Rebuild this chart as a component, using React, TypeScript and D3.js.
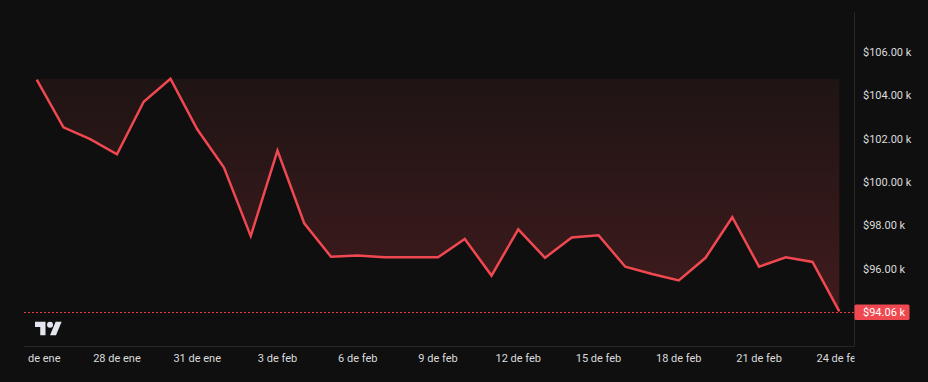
import React from "react";
import * as d3 from "d3";

const dates: string[] = [
  "2025-01-25","2025-01-26","2025-01-27","2025-01-28","2025-01-29","2025-01-30","2025-01-31",
  "2025-02-01","2025-02-02","2025-02-03","2025-02-04","2025-02-05","2025-02-06","2025-02-07",
  "2025-02-08","2025-02-09","2025-02-10","2025-02-11","2025-02-12","2025-02-13","2025-02-14",
  "2025-02-15","2025-02-16","2025-02-17","2025-02-18","2025-02-19","2025-02-20","2025-02-21",
  "2025-02-22","2025-02-23","2025-02-24"
];
const prices: number[] = [
  104.74, 102.54, 102.0, 101.3, 103.72, 104.78, 102.45,
  100.69, 97.53, 101.47, 98.12, 96.58, 96.64, 96.55,
  96.55, 96.55, 97.4, 95.71, 97.84, 96.53, 97.47,
  97.57, 96.12, 95.78, 95.49, 96.53, 98.4, 96.12,
  96.55, 96.34, 94.06
];
const yTicks: number[] = [96, 98, 100, 102, 104, 106];
const monthNames: string[] = ["ene", "feb", "mar", "abr", "may", "jun", "jul", "ago", "sep", "oct", "nov", "dic"];

const W = 928;
const H = 382;
const FONT = "Roboto, 'Noto Sans', sans-serif";

export default function App() {
  const parse = d3.timeParse("%Y-%m-%d");
  const data = dates.map((d, i) => ({ date: parse(d) as Date, v: prices[i] }));

  const paneLeft = 24;
  const paneRight = 854.5;
  const paneTop = 12;
  const paneBottom = 346.5;

  const x = d3
    .scaleTime()
    .domain([data[0].date, data[data.length - 1].date])
    .range([36.7, 839.3]);
  const y = d3.scaleLinear().domain([96, 106]).range([269.3, 52.3]);

  const maxV = d3.max(prices) as number;
  const last = data[data.length - 1];
  const lastY = Math.ceil(y(last.v)) + 0.5;

  const line = d3
    .line<{ date: Date; v: number }>()
    .x((d) => x(d.date))
    .y((d) => y(d.v));
  const area = d3
    .area<{ date: Date; v: number }>()
    .x((d) => x(d.date))
    .y0(() => y(maxV))
    .y1((d) => y(d.v));

  const xTicks = d3.timeDay.range(data[0].date, d3.timeDay.offset(last.date, 1), 3);
  const fmtDate = (d: Date) => `${d.getDate()} de ${monthNames[d.getMonth()]}`;
  const fmtPrice = (v: number) => `$${v.toFixed(2)} k`;

  return (
    <svg
      width={W}
      height={H}
      style={{ position: "absolute", left: 0, top: 0, background: "#0f0f0f", display: "block" }}
    >
      <defs>
        <linearGradient id="fillGrad" gradientUnits="userSpaceOnUse" x1="0" y1={y(maxV)} x2="0" y2={y(last.v)}>
          <stop offset="0%" stopColor="rgb(31,20,20)" />
          <stop offset="100%" stopColor="rgb(64,27,29)" />
        </linearGradient>
        <clipPath id="paneClip">
          <rect x={paneLeft} y={paneTop} width={paneRight - paneLeft} height={paneBottom - paneTop} />
        </clipPath>
        <clipPath id="timeClip">
          <rect x={26.5} y={paneBottom} width={paneRight - 26.5} height={H - paneBottom} />
        </clipPath>
      </defs>
      <rect x={0} y={0} width={W} height={H} fill="#0f0f0f" />

      <g clipPath="url(#paneClip)">
        <path d={area(data) || ""} fill="url(#fillGrad)" />
        <line
          x1={paneLeft}
          x2={paneRight}
          y1={lastY}
          y2={lastY}
          stroke="#ee3d46"
          strokeWidth={1}
          strokeDasharray="2 2"
        />
        <path
          d={line(data) || ""}
          fill="none"
          stroke="#f04850"
          strokeWidth={2.5}
          strokeLinejoin="miter"
          strokeLinecap="butt"
        />
      </g>

      {/* TradingView logo */}
      <g transform="translate(35,318.7) scale(0.75)" fill="#e3e6ee">
        <path d="M14 22H7V11H0V4h14v18zM28 22h-8l7.5-18h8L28 22z" />
        <circle cx={20} cy={8} r={4} />
      </g>

      {/* pane borders */}
      <line x1={paneRight} x2={paneRight} y1={paneTop} y2={paneBottom} stroke="#262626" strokeWidth={1} />
      <line x1={paneLeft} x2={paneRight} y1={paneBottom} y2={paneBottom} stroke="#262626" strokeWidth={1} />

      {/* price axis */}
      <g fontFamily={FONT} fontSize={11} fill="#dcdcdc">
        {yTicks.map((t) => (
          <text key={t} x={863} y={y(t)} dominantBaseline="central">
            {fmtPrice(t)}
          </text>
        ))}
      </g>

      {/* last price label */}
      <rect x={854.5} y={lastY - 8} width={55} height={15.6} rx={1.5} fill="#f04850" />
      <text
        x={863}
        y={lastY}
        dominantBaseline="central"
        fontFamily={FONT}
        fontSize={11}
        fill="#ffffff"
      >
        {fmtPrice(last.v)}
      </text>

      {/* time axis */}
      <g clipPath="url(#timeClip)" fontFamily={FONT} fontSize={11} fill="#dcdcdc">
        {xTicks.map((t) => (
          <text key={t.toISOString()} x={x(t)} y={358.7} textAnchor="middle" dominantBaseline="central">
            {fmtDate(t)}
          </text>
        ))}
      </g>
    </svg>
  );
}
